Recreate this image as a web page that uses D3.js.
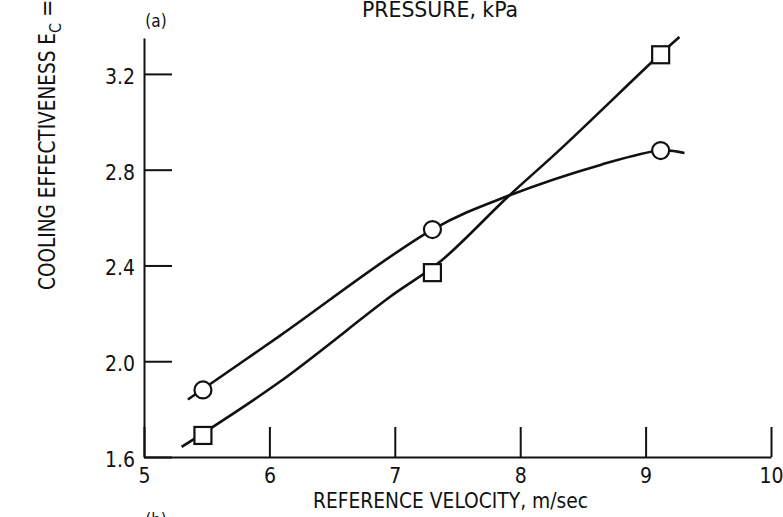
<!DOCTYPE html>
<html>
<head>
<meta charset="utf-8">
<script src="https://cdn.jsdelivr.net/npm/d3@7"></script>
<style>
  body { margin: 0; background: #fff; }
  svg text { font-family: "DejaVu Sans Condensed", "DejaVu Sans", sans-serif; font-stretch: condensed; fill: #111; }
</style>
</head>
<body>
<div id="grafica"></div>
<script>
// velocidad de referencia (m/sec) y efectividad de enfriamiento
var velocidades = [5.47, 7.30, 9.12];
var circulos = [1.88, 2.55, 2.88];
var cuadrados = [1.69, 2.37, 3.28];

// curvas trazadas a mano
var curvaCirculoX = [5.35, 6.08, 7.30, 7.90, 8.64, 9.12, 9.31];
var curvaCirculoY = [1.84, 2.105, 2.55, 2.69, 2.82, 2.88, 2.87];
var curvaCuadradoX = [5.30, 6.08, 6.96, 7.36, 7.90, 8.33, 9.11, 9.27];
var curvaCuadradoY = [1.642, 1.913, 2.268, 2.415, 2.686, 2.89, 3.279, 3.354];

var ticksX = [5, 6, 7, 8, 9, 10];
var ticksY = [1.6, 2.0, 2.4, 2.8, 3.2];

var w = 783;
var h = 517;
var fuente = '"DejaVu Sans Condensed", "DejaVu Sans", sans-serif';

var svg = d3.select('#grafica')
	.append('svg')
	.attr("width", w)
	.attr("height", h);

var x = d3.scaleLinear().domain([5, 10]).range([144, 771]);
var y = d3.scaleLinear().domain([1.6, 3.35]).range([457, 38]);

// eje x, marcas hacia arriba
svg.append("g")
	.attr("transform", "translate(0," + y(1.6) + ")")
	.call(d3.axisBottom(x)
		.tickValues(ticksX)
		.tickSizeInner(-30)
		.tickSizeOuter(0)
		.tickPadding(11)
		.tickFormat(d3.format("d")));

// eje y, marcas hacia adentro
svg.append("g")
	.attr("class", "ejeY")
	.attr("transform", "translate(" + x(5) + ",0)")
	.call(d3.axisLeft(y)
		.tickValues(ticksY)
		.tickSizeInner(-28)
		.tickSizeOuter(0)
		.tickPadding(9)
		.tickFormat(d3.format(".1f")));

svg.selectAll(".domain, .tick line")
	.attr("stroke", "#111")
	.attr("stroke-width", 2);
svg.selectAll(".tick text")
	.attr("font-size", 21)
	.style("font-family", fuente)
	.attr("fill", "#111");
svg.selectAll(".ejeY .tick text").attr("dy", "0.45em");

var linea = d3.line()
	.x(function (d) { return x(d[0]); })
	.y(function (d) { return y(d[1]); })
	.curve(d3.curveCatmullRom.alpha(0.5));

svg.append("path")
	.datum(d3.zip(curvaCirculoX, curvaCirculoY))
	.attr("d", linea)
	.attr("fill", "none")
	.attr("stroke", "#111")
	.attr("stroke-width", 2.6);

svg.append("path")
	.datum(d3.zip(curvaCuadradoX, curvaCuadradoY))
	.attr("d", linea)
	.attr("fill", "none")
	.attr("stroke", "#111")
	.attr("stroke-width", 2.6);

svg.selectAll("circle.punto")
	.data(d3.zip(velocidades, circulos))
	.enter()
	.append("circle")
	.attr("class", "punto")
	.attr("cx", function (d) { return x(d[0]); })
	.attr("cy", function (d) { return y(d[1]); })
	.attr("r", 8.5)
	.attr("fill", "#fff")
	.attr("stroke", "#111")
	.attr("stroke-width", 2.2);

var lado = 17;
svg.selectAll("rect.punto")
	.data(d3.zip(velocidades, cuadrados))
	.enter()
	.append("rect")
	.attr("class", "punto")
	.attr("x", function (d) { return x(d[0]) - lado / 2; })
	.attr("y", function (d) { return y(d[1]) - lado / 2; })
	.attr("width", lado)
	.attr("height", lado)
	.attr("fill", "#fff")
	.attr("stroke", "#111")
	.attr("stroke-width", 2.2);

// textos
svg.append("text")
	.attr("x", 362)
	.attr("y", 17)
	.attr("font-size", 21)
	.attr("textLength", 156)
	.attr("lengthAdjust", "spacingAndGlyphs")
	.text("PRESSURE, kPa");

svg.append("text")
	.attr("x", 156)
	.attr("y", 27)
	.attr("text-anchor", "middle")
	.attr("font-size", 17)
	.text("(a)");

svg.append("text")
	.attr("x", 156)
	.attr("y", 526)
	.attr("text-anchor", "middle")
	.attr("font-size", 17)
	.text("(b)");

svg.append("text")
	.attr("x", 313)
	.attr("y", 508)
	.attr("font-size", 21)
	.attr("textLength", 275)
	.attr("lengthAdjust", "spacingAndGlyphs")
	.text("REFERENCE VELOCITY, m/sec");

var tituloY = svg.append("text")
	.attr("transform", "translate(55,290) rotate(-90)")
	.attr("font-size", 23);
tituloY.append("tspan")
	.attr("textLength", 257)
	.attr("lengthAdjust", "spacingAndGlyphs")
	.text("COOLING EFFECTIVENESS E");
tituloY.append("tspan").attr("dy", 6).attr("font-size", 16).text("C");
tituloY.append("tspan").attr("dy", -6).attr("dx", 6).text("=");
</script>
</body>
</html>
